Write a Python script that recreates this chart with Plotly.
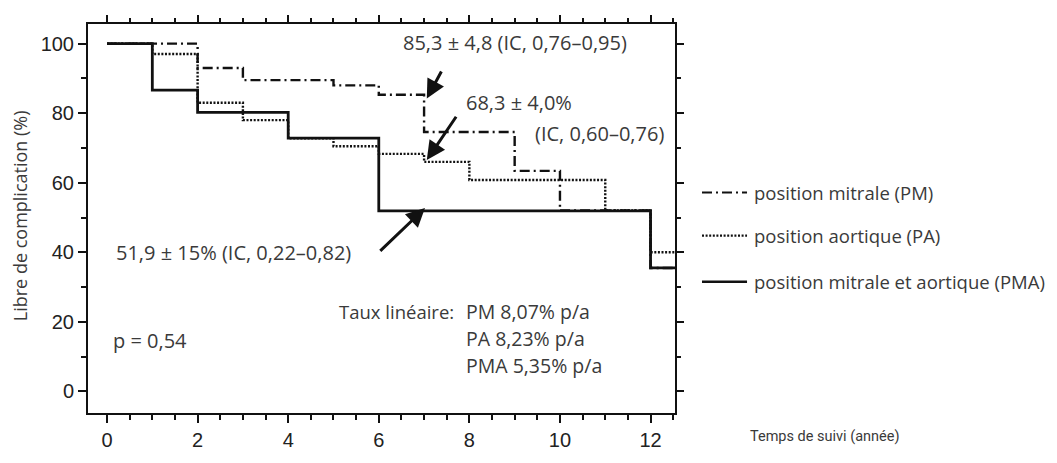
import plotly.graph_objects as go

# Kaplan-Meier step data (time in years, % free of complication)
pm_t = [0, 2, 3, 5, 6, 7, 9, 10, 12, 12.54]
pm_v = [100, 93, 89.5, 88, 85.3, 74.6, 63.4, 52, 35.5, 35.5]
pa_t = [0, 1, 2, 3, 4, 5, 6, 7, 8, 11, 12, 12.54]
pa_v = [100, 97, 83, 78, 72.8, 70.5, 68.3, 66, 60.8, 52, 40, 40]
pma_t = [0, 1, 2, 4, 6, 12, 12.54]
pma_v = [100, 86.6, 80.2, 72.8, 51.9, 35.5, 35.5]

series_names = ["position mitrale (PM)", "position aortique (PA)",
                "position mitrale et aortique (PMA)"]

x_ticks = [0, 2, 4, 6, 8, 10, 12]
y_ticks = [0, 20, 40, 60, 80, 100]

# annotation texts: (text, x, y, font size)
ann_texts = [
    ("85,3 ± 4,8 (IC, 0,76–0,95)", 6.49, 100.3, 20),
    ("68,3 ± 4,0%", 7.88, 83.1, 20),
    ("(IC, 0,60–0,76)", 9.40, 74.1, 20),
    ("51,9 ± 15% (IC, 0,22–0,82)", 0.15, 40.0, 20),
    ("p = 0,54", 0.09, 14.6, 20),
    ("Taux linéaire:", 5.08, 23.1, 18.5),
    ("PM 8,07% p/a", 7.88, 23.1, 19.5),
    ("PA 8,23% p/a", 7.88, 15.2, 19.5),
    ("PMA 5,35% p/a", 7.88, 7.6, 19.5),
]
# arrows: (tip x, tip y, tail x, tail y)
arrows = [
    (7.06, 84.2, 7.40, 92.4),
    (7.06, 66.5, 7.73, 79.4),
    (7.02, 52.7, 6.00, 40.0),
]

INK = "#111111"
TXT = "#3a3a3a"
FONT = "Open Sans, Noto Sans, sans-serif"

pm_dash = "10px,4px,2px,4px"
pa_dash = "2px,1.6px"

XR = [-0.42, 12.54]
YR = [-6.2, 105.63]

fig = go.Figure()
fig.add_trace(go.Scatter(x=pm_t, y=pm_v, mode="lines", line_shape="hv",
                         line=dict(color=INK, width=2.4, dash=pm_dash),
                         name=series_names[0], showlegend=False))
fig.add_trace(go.Scatter(x=pa_t, y=pa_v, mode="lines", line_shape="hv",
                         line=dict(color=INK, width=2.4, dash=pa_dash),
                         name=series_names[1], showlegend=False))
fig.add_trace(go.Scatter(x=pma_t, y=pma_v, mode="lines", line_shape="hv",
                         line=dict(color=INK, width=2.8),
                         name=series_names[2], showlegend=False))
# invisible trace carrying the mirrored (top/right) tick axes
fig.add_trace(go.Scatter(x=pma_t, y=pma_v, xaxis="x2", yaxis="y2", mode="lines",
                         line=dict(width=0), opacity=0, hoverinfo="skip",
                         showlegend=False))

annotations = []
for txt, x, y, fs in ann_texts:
    annotations.append(dict(text=txt, x=x, y=y, xref="x", yref="y",
                            xanchor="left", yanchor="middle", showarrow=False,
                            font=dict(family=FONT, size=fs, color=TXT)))
for tx, ty, ax, ay in arrows:
    annotations.append(dict(text="", x=tx, y=ty, ax=ax, ay=ay, xref="x", yref="y",
                            axref="x", ayref="y", showarrow=True, arrowhead=2,
                            arrowsize=1.25, arrowwidth=3, arrowcolor=INK, standoff=0))

# legend (drawn manually)
leg_rows = [0.5668, 0.4559, 0.3375]
leg_dash = [pm_dash, pa_dash, "solid"]
leg_w = [2.2, 2.2, 2.6]
shapes = []
for name, yy, dsh, w in zip(series_names, leg_rows, leg_dash, leg_w):
    shapes.append(dict(type="line", xref="paper", yref="paper", x0=1.046, x1=1.1227,
                       y0=yy, y1=yy, line=dict(color=INK, width=w, dash=dsh)))
    annotations.append(dict(text=name, x=1.131, y=yy, xref="paper", yref="paper",
                            xanchor="left", yanchor="middle", showarrow=False,
                            font=dict(family=FONT, size=18.5, color=TXT)))

annotations.append(dict(text="Libre de complication (%)", x=-0.1158, y=0.506,
                        xref="paper", yref="paper", textangle=-90, showarrow=False,
                        xanchor="center", yanchor="middle",
                        font=dict(family=FONT, size=18, color=TXT)))
annotations.append(dict(text="Temps de suivi (année)", x=1.1244, y=-0.0605,
                        xref="paper", yref="paper", showarrow=False,
                        xanchor="left", yanchor="middle",
                        font=dict(family="Roboto, sans-serif", size=14.5, color=TXT)))

tickfont = dict(family="Liberation Sans, Arial, sans-serif", size=20, color="#222222")
axis_common = dict(showgrid=False, zeroline=False, linecolor=INK,
                   linewidth=2, ticks="outside", tickcolor=INK,
                   tickwidth=2, ticklen=8, tickfont=tickfont)
xminor = dict(dtick=0.5, ticklen=5, tickcolor=INK, tickwidth=1.5,
              ticks="outside", showgrid=False)
yminor = dict(dtick=10, ticklen=5, tickcolor=INK, tickwidth=1.5,
              ticks="outside", showgrid=False)

fig.update_layout(
    width=1057, height=463,
    margin=dict(l=88, r=382, t=24, b=42),
    paper_bgcolor="white", plot_bgcolor="white",
    xaxis=dict(range=XR, tickvals=x_ticks, showline=True, mirror=True,
               minor=xminor, **axis_common),
    yaxis=dict(range=YR, tickvals=y_ticks, showline=True, mirror=True,
               minor=yminor, **axis_common),
    xaxis2=dict(range=XR, tickvals=x_ticks, overlaying="x", side="top",
                showticklabels=False, showline=False, minor=xminor, **axis_common),
    yaxis2=dict(range=YR, tickvals=y_ticks, overlaying="y", side="right",
                showticklabels=False, showline=False, minor=yminor, **axis_common),
    annotations=annotations,
    shapes=shapes,
    showlegend=False,
)

# remove the default page margin so the figure sits at the window's top-left corner
fig.write_html("out.html", config={"displayModeBar": False},
               post_script="document.body.style.margin='0';document.body.style.overflow='hidden';")
